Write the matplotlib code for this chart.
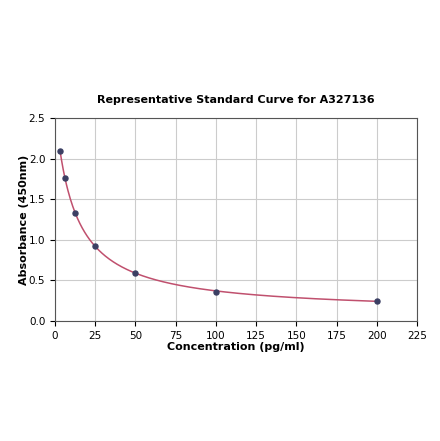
import numpy as np
import matplotlib
matplotlib.use("Agg")
import matplotlib.pyplot as plt

conc = [3.125, 6.25, 12.5, 25, 50, 100, 200]
absorbance = [2.097, 1.757, 1.334, 0.928, 0.587, 0.361, 0.25]


def fit_4pl(x, y):
    # crude 4PL fit: grid over b, c; a and d by linear least squares
    x = np.asarray(x, float)
    y = np.asarray(y, float)
    best = None
    for b in np.linspace(0.3, 3.0, 110):
        for c in np.logspace(0, 3.5, 160):
            g = 1.0 / (1.0 + (x / c) ** b)
            A = np.column_stack([g, 1 - g])
            coef, *_ = np.linalg.lstsq(A, y, rcond=None)
            err = np.sum((A @ coef - y) ** 2)
            if best is None or err < best[0]:
                best = (err, coef[0], coef[1], b, c)
    _, a, d, b, c = best
    return lambda t: d + (a - d) / (1.0 + (t / c) ** b)


curve = fit_4pl(conc, absorbance)
xs = np.linspace(min(conc), max(conc), 400)

fig = plt.figure(figsize=(4.4, 4.41), dpi=100)
ax = fig.add_axes([0.125, 0.272, 0.823, 0.46])
ax.plot(xs, curve(xs), color="#c0506e", lw=1.1, zorder=2)
ax.scatter(conc, absorbance, s=13, color="#3b3f63", zorder=3)

ax.set_xlim(0, 225)
ax.set_ylim(0, 2.5)
ax.set_xticks(np.arange(0, 226, 25))
ax.set_yticks(np.arange(0, 2.51, 0.5))
ax.grid(True, color="#cccccc", lw=0.8)
ax.set_axisbelow(True)
ax.tick_params(labelsize=7.5)
for s in ax.spines.values():
    s.set_color("#555555")
ax.set_title("Representative Standard Curve for A327136", fontsize=8,
             fontweight="bold", pad=11)
ax.set_xlabel("Concentration (pg/ml)", fontsize=8, fontweight="bold", labelpad=1)
ax.set_ylabel("Absorbance (450nm)", fontsize=8, fontweight="bold", labelpad=0)

fig.savefig("out.png", dpi=100)
